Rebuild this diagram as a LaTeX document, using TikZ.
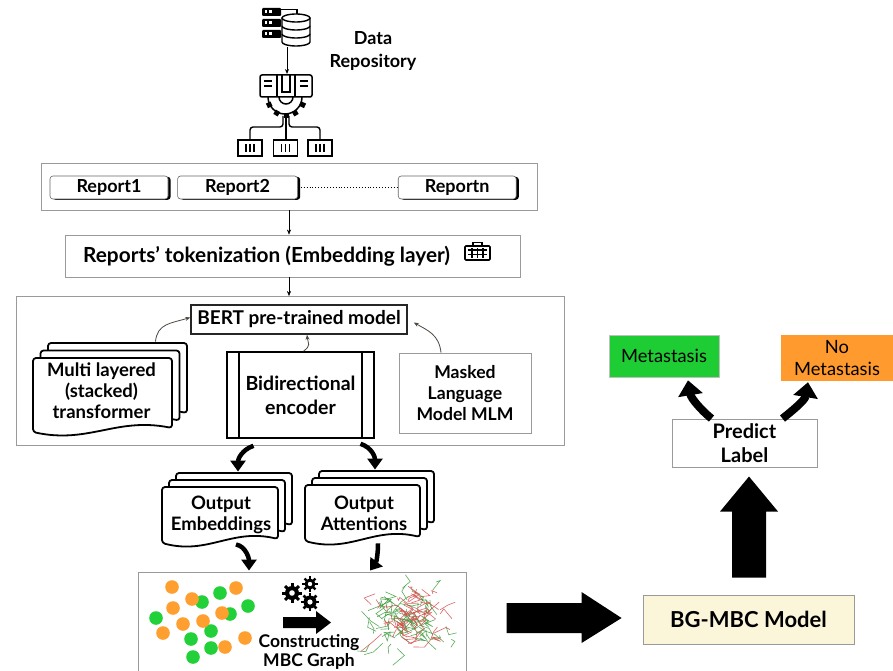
\documentclass[tikz,border=0pt]{standalone}
\usepackage{fontspec}
\setmainfont{Lato}
\usetikzlibrary{arrows.meta,positioning,calc,shadows}

\definecolor{metgreen}{HTML}{1ECC34}
\definecolor{nometorange}{HTML}{FF9A2E}
\definecolor{modelyellow}{HTML}{FBF5DA}
\definecolor{framegray}{HTML}{9A9A9A}
\definecolor{linkbrown}{HTML}{4E4640}
\definecolor{dotorange}{HTML}{FF9F2F}
\definecolor{dotgreen}{HTML}{22D13A}
\definecolor{netred}{HTML}{D64B4B}
\definecolor{netgreen}{HTML}{3E9E3E}

% one page of a document stack: top-left x, y, width, height
\newcommand{\docpage}[4]{%
  \filldraw[fill=white, line width=1.8pt, line join=round, rounded corners=3pt]
    (#1,#2) -- (#1+#3,#2) -- (#1+#3,#2+#4-9)
    .. controls (#1+0.6*#3,#2+#4-20) and (#1+0.4*#3,#2+#4+7) .. (#1,#2+#4-5) -- cycle;}
% three pages, back ones shifted up-right by #5
\newcommand{\docstack}[5]{%
  \docpage{#1+2*#5}{#2-2*#5}{#3}{#4}
  \docpage{#1+#5}{#2-#5}{#3}{#4}
  \docpage{#1}{#2}{#3}{#4}}
% small gear: centre x, y, radius, tooth width
\newcommand{\gearicon}[4]{%
  \fill (#1,#2) circle (#3pt);
  \foreach \a in {0,45,...,315}
    \draw[line width=#4pt, line cap=butt] ($(#1,#2)+(\a:0.5*#3pt)$) -- ($(#1,#2)+(\a:1.4*#3pt)$);
  \fill[white] (#1,#2) circle (0.4*#3pt);}

\tikzset{
    %Define standard arrow tip
    >={Stealth[length=5pt,width=4pt]},
    %Define style for frames
    frame/.style={
           rectangle,
           draw=framegray, line width=0.9pt,
           inner sep=0pt},
    reportbox/.style={
           rectangle,
           rounded corners=3pt,
           draw=black!60, fill=white, line width=0.6pt,
           drop shadow={shadow xshift=2.6pt, shadow yshift=-0.8pt, fill=black, opacity=1},
           minimum height=23pt, inner sep=0pt,
           font=\fontsize{18}{20}\selectfont\bfseries},
    plainbox/.style={
           rectangle,
           draw=framegray, line width=0.9pt, fill=white,
           inner sep=0pt, align=center,
           font=\fontsize{18}{21}\selectfont\bfseries},
    encbox/.style={
           rectangle,
           draw=black, line width=1.6pt, fill=white,
           inner sep=0pt, align=center,
           font=\fontsize{19.5}{24}\selectfont\bfseries,
           path picture={
             \draw[line width=1.6pt]
               ([xshift=12pt]path picture bounding box.north west) -- ([xshift=12pt]path picture bounding box.south west)
               ([xshift=-12pt]path picture bounding box.north east) -- ([xshift=-12pt]path picture bounding box.south east);}},
    classbox/.style={
           rectangle,
           inner sep=0pt, align=center,
           font=\fontsize{18.3}{22}\selectfont},
    % Define arrow styles
    linkarrow/.style={
           ->,
           draw=linkbrown, line width=0.8pt},
    fatarrow/.style={
           line width=4.5pt,
           -{Triangle[width=15pt,length=11pt]}},
    bigcurve/.style={
           line width=8pt,
           -{Triangle[width=24pt,length=15pt]}}
}

\begin{document}
\begin{tikzpicture}[x=1pt,y=-1pt]
\path[use as bounding box, fill=white] (0,0) rectangle (893,671);

% data repository icons
\foreach \i in {0,1,2}{
  \fill[rounded corners=1pt] (262,8+11*\i) rectangle (281,16+11*\i);
  \fill[white] (264.5,10.5+11*\i) rectangle (267,13.5+11*\i);
  \fill[white] (269,10.5+11*\i) rectangle (271.5,13.5+11*\i);
}
\draw[line width=1.3pt] (281,9.5) -- (297,9.5) -- (297,14);
\filldraw[fill=white, line width=1.4pt] (282,18) -- (282,42)
  arc[start angle=180, end angle=360, x radius=14pt, y radius=4pt] -- (310,18);
\filldraw[fill=white, line width=1.4pt] (296,18) ellipse[x radius=14pt, y radius=4pt];
\draw[line width=1.4pt] (282,26) arc[start angle=180, end angle=360, x radius=14pt, y radius=4pt];
\draw[line width=1.4pt] (282,34) arc[start angle=180, end angle=360, x radius=14pt, y radius=4pt];
\coordinate (dbout) at (287,47);
\coordinate (machin) at (287,74);
\draw[->, line width=1pt] (dbout) -- (machin);

\draw[line width=1.5pt, rounded corners=2pt] (260,75) rectangle (312,97);
\draw[line width=1.5pt] (277,75) -- (277,97) (295,75) -- (295,97);
\draw[line width=1.2pt] (264,81) -- (272,81) (264,86) -- (272,86)
  (300,81) -- (308,81) (300,86) -- (308,86);
\draw[line width=1.2pt] (282,75) -- (282,92) -- (290,92) -- (290,75);
\draw[line width=1.5pt] (268,97) arc[start angle=180, end angle=360, radius=17pt];
\foreach \a in {205,240,270,300,335}
  \draw[line width=5pt, line cap=butt] ($(286,97)+(\a:16pt)$) -- ($(286,97)+(\a:21pt)$);
\draw[line width=1.5pt] (279,97) arc[start angle=180, end angle=360, radius=7pt];

\draw[line width=1.4pt, rounded corners=3pt] (283,116) -- (283,127) -- (250,127) -- (250,140);
\draw[line width=1.4pt, rounded corners=3pt] (289,116) -- (289,127) -- (320,127) -- (320,140);
\draw[line width=1.4pt] (286,116) -- (286,140);
\foreach \bx in {238,273.5,308}{
  \draw[line width=1.6pt] (\bx,140) rectangle (\bx+24,156);
  \foreach \k in {0,1,2}
    \draw[line width=1.6pt] (\bx+8+4*\k,144) -- (\bx+8+4*\k,152);
}
\node[font=\fontsize{18}{23}\selectfont\bfseries, align=center] (repo) at (373,51) {Data\\Repository};

% reports
\node[frame, minimum width=496pt, minimum height=47pt] (reports) at (289,186.5) {};
\node[reportbox, minimum width=118pt] (rep1) at (109,187.5) {Report1};
\node[reportbox, minimum width=120pt, right=9pt of rep1] (rep2) {Report2};
\node[reportbox, minimum width=118pt, right=100pt of rep2] (repn) {Reportn};
\draw[dotted, line width=0.9pt] (rep2.east) -- (repn.west);

% tokenization
\node[plainbox, minimum width=455pt, minimum height=42pt] (tok) at (292.5,256) {};
\node[font=\fontsize{20.8}{24}\selectfont\bfseries, anchor=west, inner sep=0pt] (toktext) at (83,256)
  {Reports' tokenization (Embedding layer)};
\draw[line width=1.6pt, rounded corners=1pt] (465,246) rectangle (490,260);
\draw[line width=1.6pt] (473,246) -- (473,242.5) -- (482,242.5) -- (482,246);
\draw[line width=1.2pt] (468,250) -- (487,250) (468,254.5) -- (487,254.5)
  (472,248) -- (472,258) (477.5,248) -- (477.5,258) (483,248) -- (483,258);
\draw[->] (reports.south) -- (reports.south |- tok.north);

% BERT block
\node[frame, minimum width=548pt, minimum height=149pt] (bert) at (290,371) {};
\draw[->] (reports.south |- tok.south) -- (reports.south |- bert.north);
\node[plainbox, draw=black!85, line width=1.6pt, minimum width=216pt, minimum height=29pt,
  font=\fontsize{19}{21}\selectfont\bfseries] (bertm) at (299,319.5) {BERT pre-trained model};
\docstack{33}{358}{139}{79}{7.5}
\node[plainbox, draw=none, fill=none, minimum width=139pt, minimum height=70pt,
  font=\fontsize{18.5}{21}\selectfont\bfseries] (multi) at (101.5,391)
  {Multi layered\\(stacked)\\transformer};
\node[encbox, minimum width=147pt, minimum height=86pt] (enc) at (300.5,395) {Bidirectional\\encoder};
\node[plainbox, minimum width=132pt, minimum height=80pt,
  font=\fontsize{17.6}{21}\selectfont\bfseries] (mlm) at (465,393) {Masked\\Language\\Model MLM};
\draw[linkarrow] ($(multi.north east)+(-16,-14)$) .. controls +(2,-18) and +(-20,6) .. ([yshift=2pt]bertm.west);
\draw[linkarrow] ([xshift=3pt]enc.north) .. controls +(8,-6) and +(1,9) .. ([xshift=8pt]bertm.south);
\draw[linkarrow] ([xshift=-24pt]mlm.north) .. controls +(-2,-18) and +(14,8) .. ([xshift=6pt,yshift=-3pt]bertm.east);

% outputs
\docstack{162}{487}{116}{61}{7}
\node[plainbox, draw=none, fill=none, minimum width=116pt, minimum height=58pt,
  font=\fontsize{18.5}{21}\selectfont\bfseries] (outemb) at (221,515) {Output\\Embeddings};
\docstack{305}{485}{115}{61}{7}
\node[plainbox, draw=none, fill=none, minimum width=115pt, minimum height=58pt,
  font=\fontsize{18.5}{21}\selectfont\bfseries] (outatt) at (364,513) {Output\\Attentions};
\draw[fatarrow] ([xshift=-47pt,yshift=-7pt]enc.south) .. controls +(-12,4) and +(0,-12) .. ([xshift=17pt,yshift=14pt]outemb.north);
\draw[fatarrow] ([xshift=60pt,yshift=-5pt]enc.south) .. controls +(12,4) and +(0,-12) .. ([xshift=11pt,yshift=14pt]outatt.north);

% MBC graph
\node[frame, minimum width=328pt, minimum height=106pt] (graph) at (302,625) {};
\draw[fatarrow] ([xshift=15pt,yshift=0pt]outemb.south) .. controls +(10,2) and +(0,-12) .. ([xshift=-53pt,yshift=1pt]graph.north);
\draw[fatarrow] ([xshift=14pt,yshift=-1pt]outatt.south) .. controls +(0,12) and +(6,-8) .. ([xshift=68pt,yshift=1pt]graph.north);
\foreach \px/\py in {220/593,202/602,248/606,156/618,230/614,211/631,191/639,211/648,193/657}
  \fill[dotgreen] (\px,\py) circle (6.8pt);
\foreach \px/\py in {172/587,236/588,192/599,173/608,222/613,183/624,203/621,163/633,245/638,225/647}
  \fill[dotorange] (\px,\py) circle (6.8pt);
\gearicon{292}{593}{7}{3}
\gearicon{310}{584}{5.5}{2.4}
\gearicon{310}{602}{6.5}{2.8}
\fill (283,617) -- (316,617) -- (316,611) -- (331,622.5) -- (316,634) -- (316,628) -- (283,628) -- cycle;
\node[font=\fontsize{17.5}{19}\selectfont\bfseries, align=center] (cons) at (309,652) {Constructing\\MBC Graph};
\pgfmathsetseed{42}
\foreach \k in {1,...,140}{
  \pgfmathsetmacro{\ax}{410+22*(rand+rand)}
  \pgfmathsetmacro{\ay}{618+17*(rand+rand)}
  \pgfmathsetmacro{\bx}{\ax+12*rand}
  \pgfmathsetmacro{\by}{\ay+10*rand}
  \pgfmathsetmacro{\cx}{\bx+12*rand}
  \pgfmathsetmacro{\cy}{\by+10*rand}
  \ifnum\k<80 \def\netcol{netgreen}\else\def\netcol{netred}\fi
  \draw[\netcol, line width=0.6pt, opacity=0.85] (\ax,\ay) -- (\bx,\by) -- (\cx,\cy);
}

% model and prediction
\node[plainbox, fill=modelyellow, minimum width=211pt, minimum height=49pt,
  font=\fontsize{22}{24}\selectfont\bfseries] (bgm) at (748.5,619.5) {BG-MBC Model};
\node[plainbox, minimum width=145pt, minimum height=48pt,
  font=\fontsize{20}{24}\selectfont\bfseries] (pred) at (744.5,443) {Predict\\Label};
\node[classbox, fill=metgreen, draw=black!25, line width=0.6pt, minimum width=110pt, minimum height=42pt] (met) at (664,356) {Metastasis};
\node[classbox, fill=nometorange, minimum width=112pt, minimum height=46pt] (nomet) at (837,358) {No\\Metastasis};
% block arrows
\fill[shift={(bgm.west)}] (-136,-16.5) -- (-61,-16.5) -- (-61,-27.5) -- (-21,-1.5)
  -- (-61,23.5) -- (-61,13.5) -- (-136,13.5) -- cycle;
\fill[shift={(bgm.north)}] (-16.5,-17) -- (-16.5,-83) -- (-28.5,-83) -- (0.5,-118)
  -- (29.5,-83) -- (17.5,-83) -- (17.5,-17) -- cycle;
\draw[bigcurve] ([xshift=-33pt]pred.north) .. controls +(-10,-8) and +(3,18) .. ([xshift=24pt,yshift=-3pt]met.south);
\draw[bigcurve] ([xshift=38pt]pred.north) .. controls +(10,-8) and +(-3,18) .. ([xshift=-29pt,yshift=-1pt]nomet.south);
\end{tikzpicture}
\end{document}
